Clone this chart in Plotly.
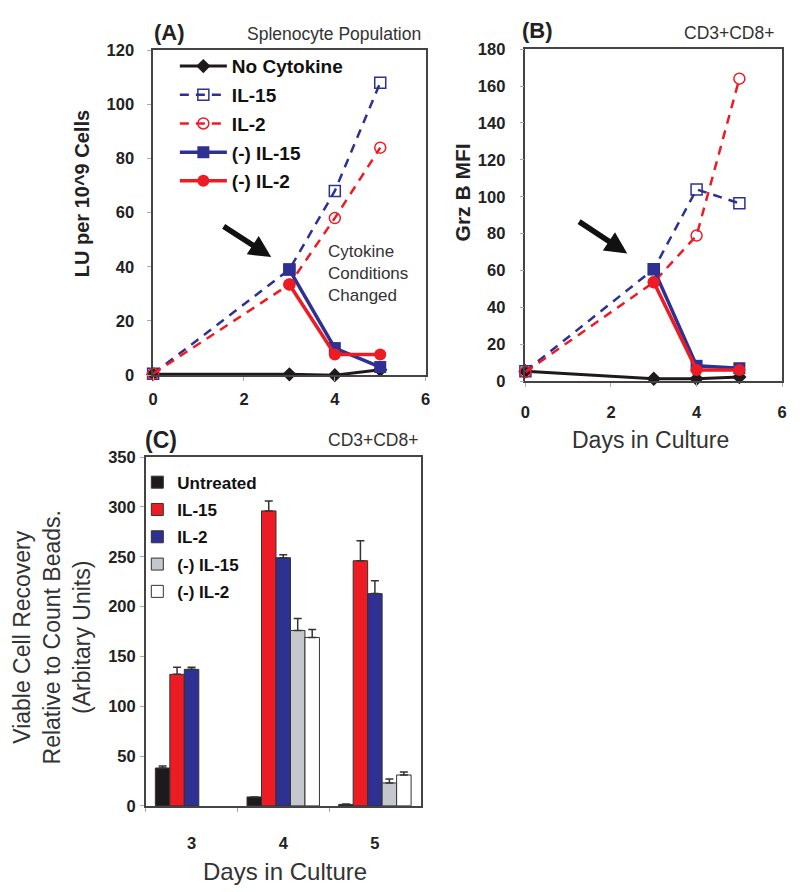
import plotly.graph_objects as go

# ---- data ----
days = [0, 3, 4, 5]
days_neg = [3, 4, 5]

# panel A: LU per 10^9 cells
a_none = [0.3, 0.3, 0.0, 2.0]
a_il15 = [0.5, 39, 68, 108]
a_il2 = [0.5, 33.5, 58, 84]
a_neg_il15 = [39, 10, 3]
a_neg_il2 = [33.5, 7.6, 7.6]

# panel B: Grz B MFI
b_none = [5.5, 1.4, 1.4, 2.3]
b_il15 = [5.5, 60.8, 104, 96.5]
b_il2 = [5.0, 53.7, 79, 164]
b_neg_il15 = [60.8, 8.4, 7.1]
b_neg_il2 = [53.7, 6.2, 6.2]

# panel C: viable cell recovery
c_days = ["3", "4", "5"]
c_untreated = [38, 9, 1.5]
c_untreated_err = [2, 0, 0.5]
c_il15 = [132, 296, 246]
c_il15_err = [7, 10, 20]
c_il2 = [137, 249, 213]
c_il2_err = [2, 3, 13]
c_neg_il15 = [None, 176, 23]
c_neg_il15_err = [0, 12, 4]
c_neg_il2 = [None, 169, 31]
c_neg_il2_err = [0, 8, 3]

BLACK = "#1e1a1b"
RED = "#ed1c24"
BLUE = "#2e3192"
GREY = "#c4c8cc"
FONT = "Liberation Sans, Arial, sans-serif"

W, H = 800, 892


def px_x(p):
    return p / W


def px_y(p):
    return 1 - p / H


fig = go.Figure()


def line_traces(xa, ya, none, il15, il2, neg15, neg2, show):
    common = dict(xaxis=xa, yaxis=ya, cliponaxis=False, showlegend=show)
    fig.add_trace(go.Scatter(
        x=days, y=none, name="No Cytokine", mode="lines+markers",
        line=dict(color=BLACK, width=3),
        marker=dict(symbol="diamond", size=11, color=BLACK),
        legendgroup="a", **common))
    fig.add_trace(go.Scatter(
        x=days, y=il15, name="IL-15", mode="lines+markers",
        line=dict(color=BLUE, width=2.5, dash="9px,7px"),
        marker=dict(symbol="square-open", size=11, color=BLUE, line=dict(width=1.5)),
        legendgroup="b", **common))
    fig.add_trace(go.Scatter(
        x=days, y=il2, name="IL-2", mode="lines+markers",
        line=dict(color=RED, width=2.5, dash="9px,7px"),
        marker=dict(symbol="circle-open", size=11, color=RED, line=dict(width=1.5)),
        legendgroup="c", **common))
    fig.add_trace(go.Scatter(
        x=days_neg, y=neg15, name="(-) IL-15", mode="lines+markers",
        line=dict(color=BLUE, width=3.5),
        marker=dict(symbol="square", size=12, color=BLUE),
        legendgroup="d", **common))
    fig.add_trace(go.Scatter(
        x=days_neg, y=neg2, name="(-) IL-2", mode="lines+markers",
        line=dict(color=RED, width=3.5),
        marker=dict(symbol="circle", size=12, color=RED),
        legendgroup="e", **common))


line_traces("x", "y", a_none, a_il15, a_il2, a_neg_il15, a_neg_il2, True)
line_traces("x2", "y2", b_none, b_il15, b_il2, b_neg_il15, b_neg_il2, False)

bars = [
    ("Untreated", c_untreated, c_untreated_err, BLACK),
    ("IL-15", c_il15, c_il15_err, RED),
    ("IL-2", c_il2, c_il2_err, BLUE),
    ("(-) IL-15", c_neg_il15, c_neg_il15_err, GREY),
    ("(-) IL-2", c_neg_il2, c_neg_il2_err, "#ffffff"),
]
for i, (name, vals, err, col) in enumerate(bars):
    fig.add_trace(go.Bar(
        x=c_days, y=vals, name=name, xaxis="x3", yaxis="y3",
        marker=dict(color=col, line=dict(color="#333333", width=1)),
        error_y=dict(type="data", array=err, arrayminus=[0] * len(err),
                     symmetric=False, color="#333333", thickness=1.5, width=4),
        legend="legend2", legendgroup=f"bar{i}",
    ))

axis_style = dict(
    showline=True, mirror=True, linecolor="#444444", linewidth=1.5,
    ticks="outside", ticklen=4, tickcolor="#aaaaaa",
    tickfont=dict(family=FONT, size=16.5, color="#222222", weight="bold"),
    showgrid=False, zeroline=False,
)

fig.update_layout(
    width=W, height=H, autosize=False,
    margin=dict(l=0, r=0, t=0, b=0),
    paper_bgcolor="white", plot_bgcolor="white",
    font=dict(family=FONT, color="#222222"),
    barmode="group", bargap=0.21, bargroupgap=0,
    xaxis=dict(domain=[px_x(150), px_x(426)], range=[0, 6], dtick=2,
               anchor="y", ticklabelstandoff=4, **axis_style),
    yaxis=dict(domain=[px_y(373.7), px_y(42)], range=[0, 120], dtick=20,
               anchor="x", ticklabelstandoff=10, **axis_style),
    xaxis2=dict(domain=[px_x(527), px_x(787)], range=[0, 6], dtick=2,
                anchor="y2", ticklabelstandoff=11, **axis_style),
    yaxis2=dict(domain=[px_y(380), px_y(41)], range=[0, 180], dtick=20,
                anchor="x2", ticklabelstandoff=11, **axis_style),
    xaxis3=dict(domain=[px_x(142.5), px_x(421)], type="category",
                anchor="y3", tickson="boundaries", ticklabelstandoff=22,
                **axis_style),
    yaxis3=dict(domain=[px_y(813.3), px_y(457.3)], range=[0, 350], dtick=50,
                anchor="x3", ticklabelstandoff=1, **axis_style),
    legend=dict(x=px_x(172), y=px_y(39), xanchor="left", yanchor="top",
                bgcolor="rgba(0,0,0,0)", tracegroupgap=1, itemwidth=47,
                font=dict(family=FONT, size=19, color="#111111", weight="bold")),
    legend2=dict(x=px_x(134), y=px_y(465), xanchor="left", yanchor="top",
                 bgcolor="rgba(0,0,0,0)", itemwidth=30, tracegroupgap=2.2,
                 font=dict(family=FONT, size=17, color="#111111", weight="bold")),
)

ann = []


def txt(x, y, s, size, bold=False, xanchor="center", color="#222222", angle=0,
        align="center"):
    ann.append(dict(
        x=px_x(x), y=px_y(y), xref="paper", yref="paper", text=s,
        showarrow=False, xanchor=xanchor, yanchor="middle", textangle=angle,
        align=align,
        font=dict(family=FONT, size=size, color=color,
                  weight="bold" if bold else "normal"),
    ))


txt(149, 24, "(A)", 22, bold=True, xanchor="left")
txt(423, 26, "Splenocyte Population", 17.5, xanchor="right", color="#333333")
txt(522, 22, "(B)", 22, bold=True, xanchor="left")
txt(781, 24, "CD3+CD8+", 17.5, xanchor="right", color="#333333")
txt(140, 440, "(C)", 23, bold=True, xanchor="left")
txt(420, 440, "CD3+CD8+", 17.5, xanchor="right", color="#333333")

txt(78, 189, "LU per 10^9 Cells", 20, bold=True, angle=-90)
txt(463, 187, "Grz B MFI", 21, bold=True, angle=-90)
txt(48, 641, "Viable Cell Recovery<br>Relative to Count Beads.<br>(Arbitary Units)",
    23, angle=-90, color="#333333")
txt(654, 440, "Days in Culture", 23, color="#333333")
txt(284, 880, "Days in Culture", 24, color="#333333")

# cytokine conditions note
ann.append(dict(
    x=3.8, y=37.5, xref="x", yref="y", text="Cytokine<br>Conditions<br>Changed",
    showarrow=False, xanchor="left", yanchor="middle", align="left",
    font=dict(family=FONT, size=17, color="#333333"),
))

# arrows
ann.append(dict(x=2.6, y=43.6, ax=1.52, ay=55.3, xref="x", yref="y",
                axref="x", ayref="y", showarrow=True, arrowhead=2,
                arrowsize=0.8, arrowwidth=5.5, arrowcolor="#111111", text=""))
ann.append(dict(x=2.38, y=69.3, ax=1.22, ay=87.1, xref="x2", yref="y2",
                axref="x2", ayref="y2", showarrow=True, arrowhead=2,
                arrowsize=0.8, arrowwidth=5.5, arrowcolor="#111111", text=""))

fig.update_layout(annotations=ann)

fig.write_html("out.html", config={"displayModeBar": False},
               post_script="document.body.style.margin='0';")
